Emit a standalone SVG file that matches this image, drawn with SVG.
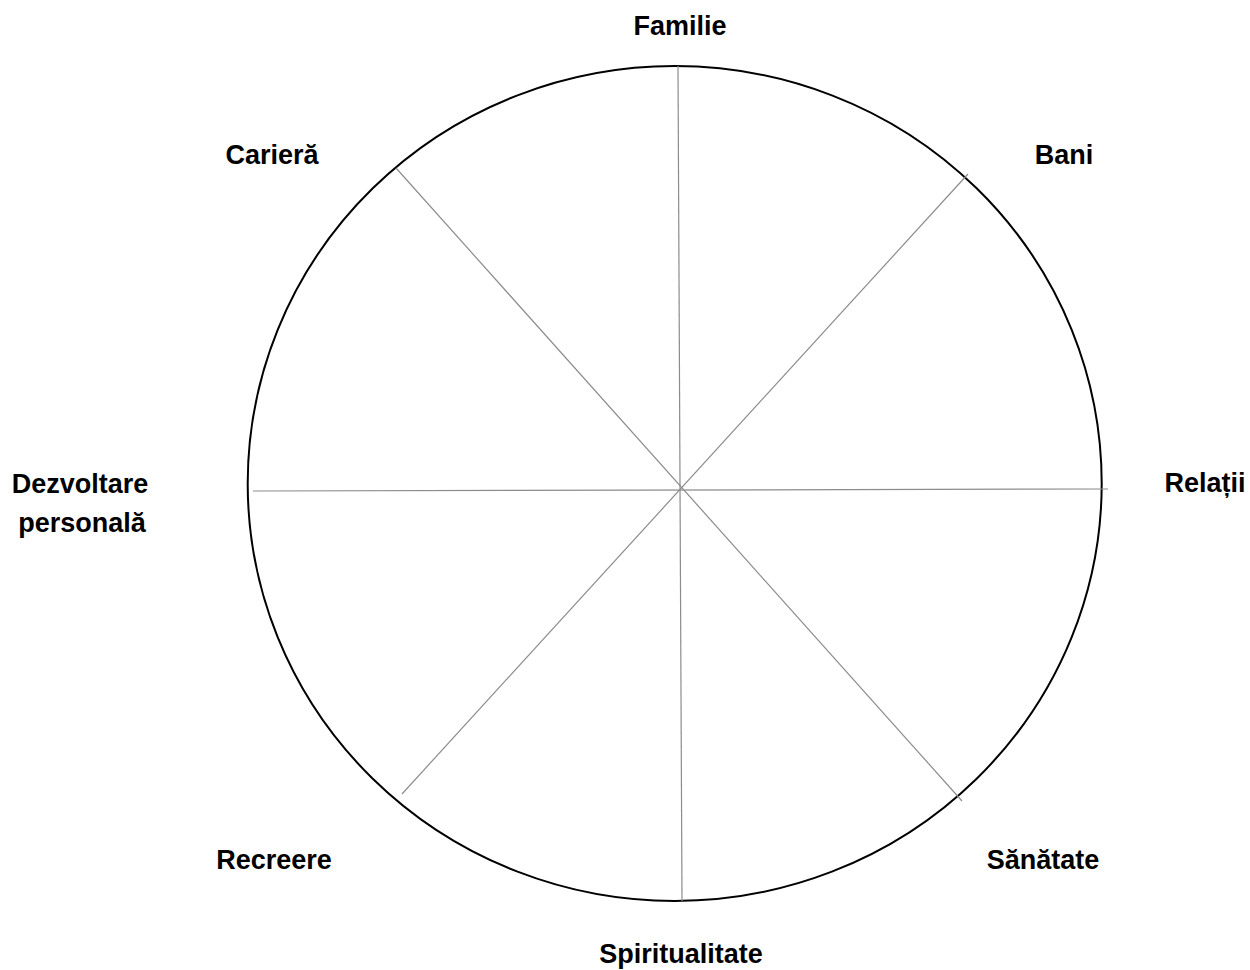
<svg xmlns="http://www.w3.org/2000/svg" width="1250" height="970" viewBox="0 0 1250 970">
<style>
.lbl{font-family:"Liberation Sans",Arial,sans-serif;font-weight:bold;font-size:27px;fill:#000;text-anchor:middle}
.spoke{stroke:#8c8c8c;stroke-width:1.2;fill:none}
.rim{stroke:#000;stroke-width:2;fill:none}
</style>
<rect width="1250" height="970" fill="#fff"/>
<g id="wheel">
<ellipse class="rim" cx="674.7" cy="483.5" rx="427" ry="417.5"/>
</g>
<g id="connectors">
<line class="spoke" x1="678" y1="66" x2="682" y2="901"/>
<line class="spoke" x1="253" y1="491" x2="1108" y2="489"/>
<line class="spoke" x1="396" y1="168" x2="962" y2="801"/>
<line class="spoke" x1="968" y1="174" x2="402" y2="794"/>
</g>
<g id="familie"><text class="lbl" x="680" y="35">Familie</text></g>
<g id="cariera"><text class="lbl" x="272" y="164">Carieră</text></g>
<g id="bani"><text class="lbl" x="1064" y="164">Bani</text></g>
<g id="dezvoltare"><text class="lbl" x="80" y="493">Dezvoltare</text><text class="lbl" x="82" y="532">personală</text></g>
<g id="relatii"><text class="lbl" x="1205" y="492">Relații</text></g>
<g id="recreere"><text class="lbl" x="274" y="869">Recreere</text></g>
<g id="sanatate"><text class="lbl" x="1043" y="869">Sănătate</text></g>
<g id="spiritualitate"><text class="lbl" x="681" y="963">Spiritualitate</text></g>
</svg>
